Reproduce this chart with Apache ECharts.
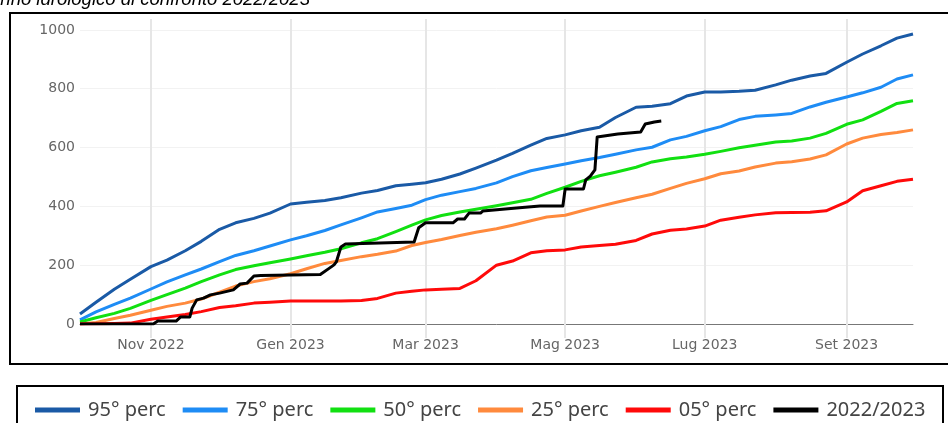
<!DOCTYPE html>
<html>
<head>
<meta charset="utf-8">
<script src="https://cdn.jsdelivr.net/npm/echarts@6/dist/echarts.min.js"></script>
<style>
  html, body { margin: 0; padding: 0; background: #fff; }
  #chart { width: 948px; height: 423px; }
</style>
</head>
<body>
<div id="chart"></div>
<script>
// Hydrological year: 1 Oct 2022 - 30 Sep 2023
const yearStart = '2022-10-01';
const yearEnd = '2023-09-30';

// Labelled month starts on the time axis
const tickDates = ['2022-11-01', '2023-01-01', '2023-03-01', '2023-05-01', '2023-07-01', '2023-09-01'];
const tickLabels = ['Nov 2022', 'Gen 2023', 'Mar 2023', 'Mag 2023', 'Lug 2023', 'Set 2023'];

// Weekly reference dates for the percentile curves
const sampleDates = [
  '2022-10-01', '2022-10-08', '2022-10-16', '2022-10-23',
  '2022-11-01', '2022-11-08', '2022-11-16', '2022-11-23',
  '2022-12-01', '2022-12-08', '2022-12-16', '2022-12-23',
  '2023-01-01', '2023-01-08', '2023-01-16', '2023-01-23',
  '2023-02-01', '2023-02-08', '2023-02-16', '2023-02-23',
  '2023-03-01', '2023-03-08', '2023-03-16', '2023-03-23',
  '2023-04-01', '2023-04-08', '2023-04-16', '2023-04-23',
  '2023-05-01', '2023-05-08', '2023-05-16', '2023-05-23',
  '2023-06-01', '2023-06-08', '2023-06-16', '2023-06-23',
  '2023-07-01', '2023-07-08', '2023-07-16', '2023-07-23',
  '2023-08-01', '2023-08-08', '2023-08-16', '2023-08-23',
  '2023-09-01', '2023-09-08', '2023-09-16', '2023-09-23', '2023-09-30'
];

// Cumulative values per percentile (same order as sampleDates)
const p95 = [34, 74, 118, 152, 195, 217, 249, 281, 322, 344, 359, 377,
  408, 414, 420, 429, 445, 454, 470, 475, 480, 492, 510, 530,
  557, 580, 608, 631, 643, 657, 669, 702, 737, 740, 749, 775,
  789, 789, 791, 795, 813, 829, 843, 852, 890, 918, 946, 972, 986];
const p75 = [14, 41, 67, 88, 119, 143, 167, 187, 212, 233, 249, 265,
  286, 300, 318, 337, 361, 381, 393, 404, 423, 438, 450, 461,
  480, 501, 521, 532, 544, 555, 566, 577, 592, 601, 626, 638,
  657, 671, 695, 706, 711, 716, 738, 754, 772, 786, 805, 833, 847];
const p50 = [7, 21, 36, 53, 80, 100, 122, 144, 167, 185, 198, 208,
  221, 232, 244, 256, 276, 290, 314, 336, 354, 369, 381, 390,
  402, 412, 424, 444, 465, 485, 504, 516, 533, 551, 562, 568,
  577, 587, 599, 608, 619, 622, 632, 648, 679, 694, 723, 750, 759];
const p25 = [0, 5, 19, 30, 47, 60, 71, 85, 108, 129, 144, 154,
  171, 188, 206, 216, 229, 237, 248, 267, 277, 287, 301, 312,
  324, 336, 351, 364, 370, 384, 400, 413, 429, 441, 461, 478,
  494, 511, 520, 534, 547, 552, 561, 575, 612, 632, 644, 651, 660];
const p05 = [0, 1, 2, 3, 16, 24, 32, 42, 56, 62, 71, 74,
  78, 78, 78, 78, 80, 87, 105, 111, 116, 118, 121, 147,
  200, 214, 242, 249, 252, 262, 267, 271, 284, 306, 319, 323,
  333, 353, 363, 371, 378, 379, 380, 385, 415, 453, 470, 485, 492];

// Current year 2022/2023, recorded up to mid June
const obsDates = [
  '2022-10-01', '2022-11-02', '2022-11-04', '2022-11-12', '2022-11-14', '2022-11-18',
  '2022-11-19', '2022-11-21', '2022-11-24', '2022-11-27', '2022-12-01', '2022-12-07',
  '2022-12-10', '2022-12-13', '2022-12-16', '2022-12-19', '2023-01-14', '2023-01-18',
  '2023-01-20', '2023-01-21', '2023-01-23', '2023-01-25', '2023-02-24', '2023-02-26',
  '2023-03-01', '2023-03-13', '2023-03-15', '2023-03-18', '2023-03-20', '2023-03-25',
  '2023-03-26', '2023-04-11', '2023-04-20', '2023-04-30', '2023-05-01', '2023-05-09',
  '2023-05-10', '2023-05-12', '2023-05-14', '2023-05-15', '2023-05-24', '2023-06-03',
  '2023-06-05', '2023-06-09', '2023-06-12'
];
const obsValues = [
  0, 0, 10, 10, 24, 24,
  54, 82, 88, 99, 105, 116,
  136, 139, 163, 165, 168, 190,
  201, 211, 262, 272, 279, 327,
  344, 344, 357, 357, 377, 377,
  384, 395, 401, 401, 459, 459,
  490, 503, 524, 636, 646, 653,
  680, 687, 690
];

const seriesNames = ['95° perc', '75° perc', '50° perc', '25° perc', '05° perc', '2022/2023'];
const seriesColors = ['#1a5aa6', '#1e8cf5', '#11e011', '#ff8a3d', '#ff0a0a', '#000000'];

// Daily categories covering the whole year
function isoDay(d) {
  const m = d.getUTCMonth() + 1, day = d.getUTCDate();
  return d.getUTCFullYear() + '-' + (m < 10 ? '0' : '') + m + '-' + (day < 10 ? '0' : '') + day;
}
const days = [];
for (let t = Date.parse(yearStart + 'T00:00:00Z'); t <= Date.parse(yearEnd + 'T00:00:00Z'); t += 86400000) {
  days.push(isoDay(new Date(t)));
}
const isTick = (idx, val) => tickDates.indexOf(val) >= 0;

const pairs = (dates, vals) => dates.map((d, i) => [d, vals[i]]);
const curves = [p95, p75, p50, p25, p05].map(v => pairs(sampleDates, v));
curves.push(pairs(obsDates, obsValues));

const chart = echarts.init(document.getElementById('chart'), null, { renderer: 'canvas' });
chart.setOption({
  animation: false,
  backgroundColor: '#fff',
  grid: { left: 80, right: 35, top: 19, bottom: 99, containLabel: false },
  graphic: [
    {
      type: 'text', left: -12, top: -10, silent: true,
      style: { text: 'Anno idrologico di confronto 2022/2023', fill: '#000',
               font: 'italic 18.5px "Liberation Sans", Arial, sans-serif' }
    },
    {
      type: 'rect', silent: true, z: -1,
      shape: { x: 10, y: 13, width: 960, height: 351 },
      style: { fill: 'none', stroke: '#000', lineWidth: 2 }
    },
    {
      type: 'rect', silent: true, z: -1,
      shape: { x: 17, y: 386, width: 926, height: 80 },
      style: { fill: 'none', stroke: '#000', lineWidth: 2 }
    }
  ],
  legend: {
    data: seriesNames,
    left: 35, top: 400, padding: 0,
    icon: 'rect', itemWidth: 45, itemHeight: 5, itemGap: 17,
    textStyle: { fontFamily: '"Noto Sans", sans-serif', fontSize: 20, color: '#444', padding: [0, 0, 0, 3] }
  },
  xAxis: {
    type: 'category',
    data: days,
    boundaryGap: false,
    axisLine: { show: true, lineStyle: { color: '#777', width: 1 } },
    axisTick: { show: true, interval: isTick, length: 14, lineStyle: { color: '#e6e6e6', width: 2 } },
    axisLabel: {
      interval: isTick, margin: 14, color: '#666',
      fontFamily: '"DejaVu Sans", sans-serif', fontSize: 14,
      formatter: v => tickLabels[tickDates.indexOf(v)]
    },
    splitLine: { show: true, interval: isTick, lineStyle: { color: '#e6e6e6', width: 2 } }
  },
  yAxis: {
    type: 'value',
    min: 0, max: 1037, interval: 200,
    axisLine: { show: false },
    axisTick: { show: false },
    axisLabel: { showMaxLabel: false, margin: 5, color: '#666', fontFamily: '"DejaVu Sans", sans-serif', fontSize: 14,
                 formatter: v => String(v) },
    splitLine: { show: true, showMaxLine: false, lineStyle: { color: '#f2f2f2', width: 1 } }
  },
  series: seriesNames.map((name, i) => ({
    name: name,
    type: 'line',
    data: curves[i],
    color: seriesColors[i],
    showSymbol: false,
    symbol: 'none',
    lineStyle: { width: 3, color: seriesColors[i], join: 'round' },
    z: 2 + i
  }))
});
</script>
</body>
</html>
